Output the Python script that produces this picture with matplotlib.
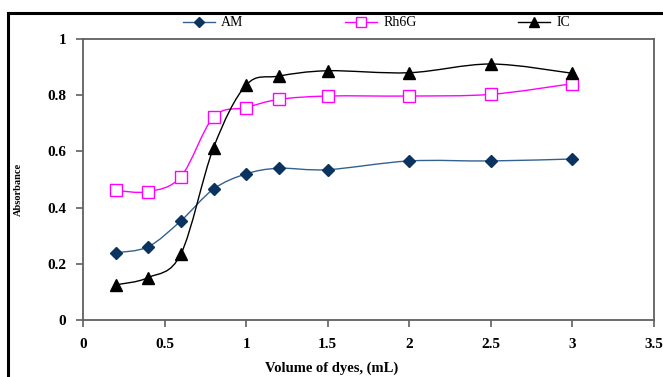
import numpy as np
import matplotlib
matplotlib.use("Agg")
import matplotlib.pyplot as plt
from matplotlib.path import Path
from matplotlib.patches import PathPatch
from matplotlib.lines import Line2D

# ---- data ----
volume = [0.2, 0.4, 0.6, 0.8, 1.0, 1.2, 1.5, 2.0, 2.5, 3.0]
am = [0.239, 0.261, 0.353, 0.466, 0.520, 0.540, 0.535, 0.566, 0.566, 0.573]
rh6g = [0.461, 0.457, 0.510, 0.722, 0.756, 0.785, 0.797, 0.797, 0.803, 0.841]
ic = [0.125, 0.151, 0.235, 0.613, 0.836, 0.868, 0.887, 0.880, 0.911, 0.878]
series_names = ["AM", "Rh6G", "IC"]
x_ticks = [0, 0.5, 1, 1.5, 2, 2.5, 3, 3.5]
x_ticklabels = ["0", "0.5", "1", "1.5", "2", "2.5", "3", "3.5"]
y_ticks = [0, 0.2, 0.4, 0.6, 0.8, 1.0]
y_ticklabels = ["0", "0.2", "0.4", "0.6", "0.8", "1"]

SERIF = "Liberation Serif"

W, H = 663, 377
fig = plt.figure(figsize=(W / 100, H / 100), dpi=100)

# outer frame (top and left edges visible)
fig.add_artist(Line2D([7.5 / W, 1.0], [1 - 12.5 / H, 1 - 12.5 / H],
                      transform=fig.transFigure, color="black", lw=2.2))
fig.add_artist(Line2D([7.5 / W, 7.5 / W], [1 - 12.5 / H, 0.0],
                      transform=fig.transFigure, color="black", lw=2.2))

ax_l, ax_r, ax_t, ax_b = 83, 654, 39, 320
ax = fig.add_axes([ax_l / W, 1 - ax_b / H, (ax_r - ax_l) / W, (ax_b - ax_t) / H])
ax.set_xlim(0, 3.5)
ax.set_ylim(0, 1)


def smooth_path(xs, ys):
    pts = np.column_stack([xs, ys]).astype(float)
    n = len(pts)
    verts = [pts[0]]
    codes = [Path.MOVETO]
    for i in range(n - 1):
        p0 = pts[i - 1] if i > 0 else pts[i]
        p1 = pts[i]
        p2 = pts[i + 1]
        p3 = pts[i + 2] if i + 2 < n else pts[i + 1]
        c1 = p1 + (p2 - p0) / 6.0
        c2 = p2 - (p3 - p1) / 6.0
        verts += [c1, c2, p2]
        codes += [Path.CURVE4] * 3
    return Path(verts, codes)


styles = [
    dict(values=am, line="#35618f", lw=1.0, marker="D", ms=6.0, mfc="#0b3360", mec="#0b3360"),
    dict(values=rh6g, line="#ff00ff", lw=1.0, marker="s", ms=8.0, mfc="white", mec="#ff00ff"),
    dict(values=ic, line="black", lw=1.0, marker="^", ms=8.0, mfc="black", mec="black"),
]

handles = []
for name, st in zip(series_names, styles):
    p = smooth_path(volume, st["values"])
    ax.add_patch(PathPatch(p, facecolor="none", edgecolor=st["line"], lw=st["lw"],
                           transform=ax.transData, zorder=2))
    ax.plot(volume, st["values"], linestyle="none", marker=st["marker"], ms=st["ms"],
            mfc=st["mfc"], mec=st["mec"], mew=1.0, zorder=3, clip_on=False)
    handles.append(Line2D([], [], color=st["line"], lw=st["lw"], marker=st["marker"],
                          ms=st["ms"] * 0.85, mfc=st["mfc"], mec=st["mec"], label=name))

for s in ax.spines.values():
    s.set_color("#606060")
    s.set_linewidth(1.3)

ax.set_xticks(x_ticks)
ax.set_xticklabels(x_ticklabels)
ax.set_yticks(y_ticks)
ax.set_yticklabels(y_ticklabels)
ax.tick_params(axis="both", direction="out", length=5, width=1.2, color="#606060",
               labelsize=11)
ax.tick_params(axis="x", pad=8)
ax.tick_params(axis="y", pad=7)
for lab in ax.get_xticklabels() + ax.get_yticklabels():
    lab.set_fontfamily(SERIF)
    lab.set_fontweight("bold")

fig.text(332 / W, 1 - 368 / H, "Volume of dyes, (mL)", ha="center", va="center",
         fontfamily=SERIF, fontweight="bold", fontsize=10.5)
fig.text(18 / W, 1 - 189 / H, "Absorbance", ha="center", va="center", rotation=90,
         fontfamily=SERIF, fontweight="bold", fontsize=7.5)

leg = fig.legend(handles=handles, loc="center left", bbox_to_anchor=(183 / W, 1 - 23 / H),
                 ncol=3, frameon=False, handlelength=2.3, handletextpad=0.45,
                 columnspacing=7.3, borderpad=0, borderaxespad=0,
                 prop={"family": SERIF, "size": 10})

fig.savefig("out.png", dpi=100)
